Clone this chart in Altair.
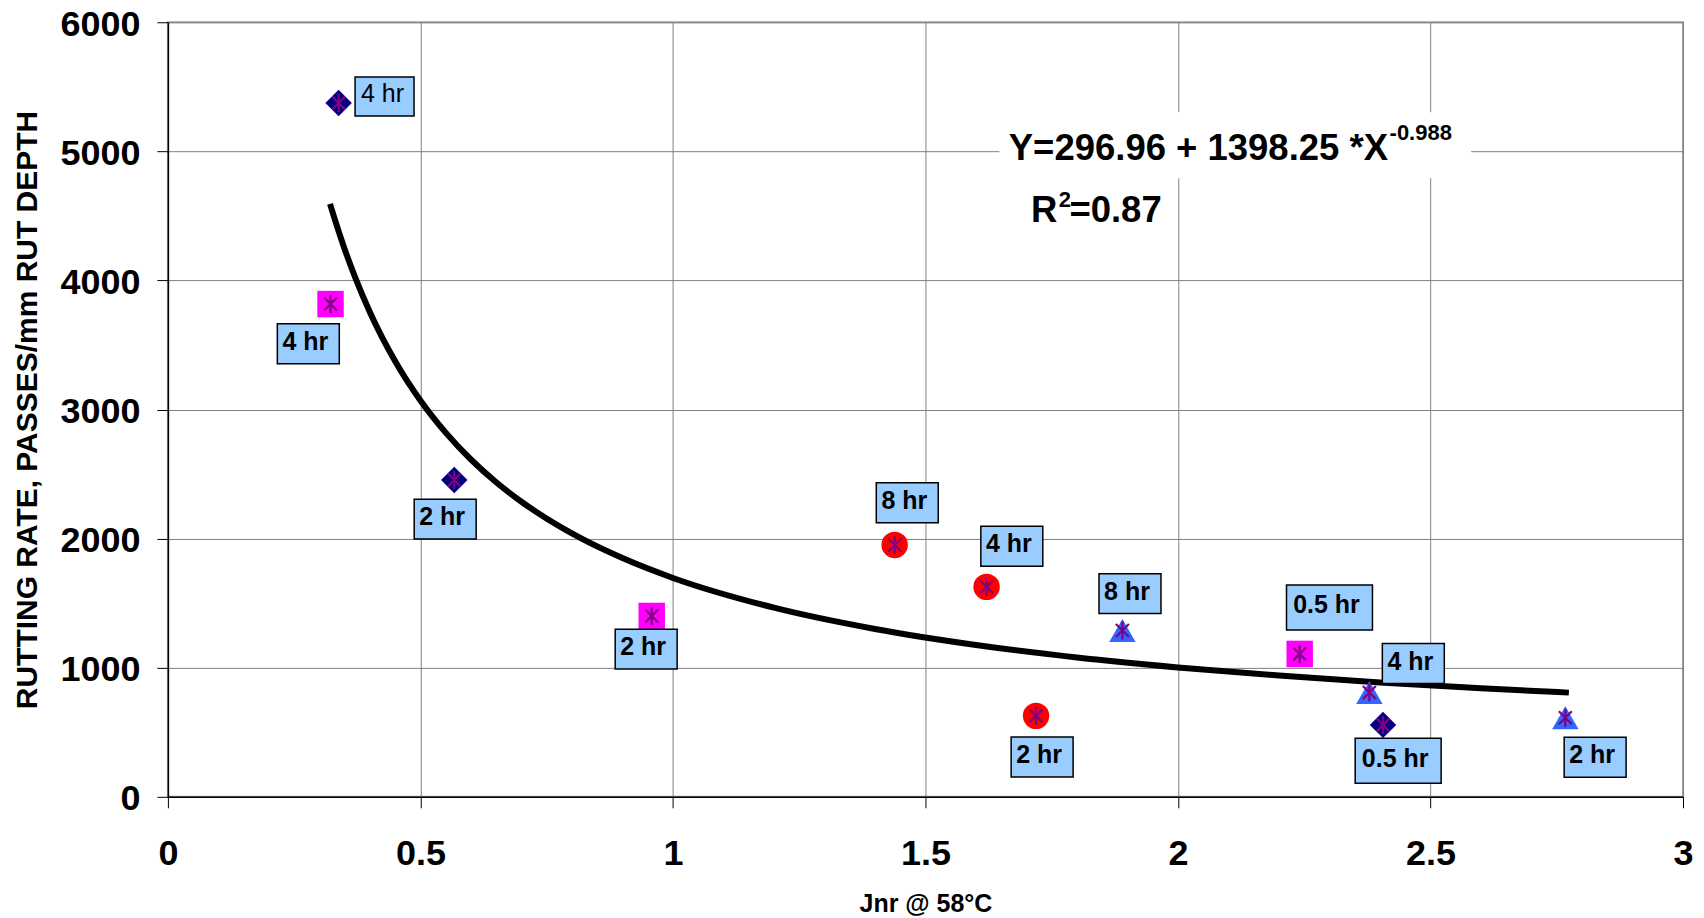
import altair as alt
import pandas as pd

# ---- data ----
series = ["Series 1", "Series 2", "Series 1", "Series 2", "Series 3", "Series 3",
          "Series 3", "Series 4", "Series 2", "Series 4", "Series 1", "Series 4"]
jnr = [0.338, 0.322, 0.567, 0.958, 1.439, 1.621, 1.719, 1.890, 2.241, 2.379, 2.406, 2.767]
rate = [5375, 3817, 2454, 1401, 1951, 1626, 627, 1288, 1107, 808, 557, 612]

labels = ["4 hr", "4 hr", "2 hr", "2 hr", "8 hr", "4 hr", "2 hr", "8 hr",
          "0.5 hr", "4 hr", "0.5 hr", "2 hr"]
label_x = [0.429, 0.278, 0.549, 0.947, 1.464, 1.671, 1.731, 1.905, 2.300, 2.466, 2.436, 2.826]
label_y = [5425, 3509, 2151, 1144, 2278, 1941, 308, 1574, 1467, 1032, 279, 307]

fit_x = [0.321, 0.33, 0.35, 0.37, 0.4, 0.45, 0.5, 0.55, 0.6, 0.65, 0.7, 0.8, 0.9,
         1.0, 1.2, 1.4, 1.6, 1.8, 2.0, 2.2, 2.4, 2.6, 2.774]
fit_y = [4594, 4478, 4242, 4032, 3754, 3374, 3070, 2821, 2613, 2437, 2286, 2040, 1849,
         1695, 1465, 1300, 1176, 1079, 1002, 939, 886, 841, 807]

eq_main = ["Y=296.96 + 1398.25 *X", "R", "=0.87"]
eq_main_x = [1.665, 1.709, 1.785]
eq_main_y = [4932, 4454, 4454]
eq_sup = ["-0.988", "2"]
eq_sup_x = [2.419, 1.764]
eq_sup_y = [5088, 4572]
eq_box_x = [2.1135]
eq_box_y = [5048]

x_ticks = [0, 0.5, 1, 1.5, 2, 2.5, 3]
y_ticks = [0, 1000, 2000, 3000, 4000, 5000, 6000]

FONT = "Liberation Sans"
W, H = 1516, 775


def X():
    return alt.X("x:Q", scale=alt.Scale(domain=[0, 3], nice=False, zero=False),
                 axis=alt.Axis(values=x_ticks, format=".1~f", title="Jnr @ 58°C",
                               labelFlush=False, labelOverlap=False, labelPadding=29,
                               titleX=W / 2, titleY=115, titleBaseline="alphabetic",
                               titleAlign="center", titleFontSize=25))


def Y():
    return alt.Y("y:Q", scale=alt.Scale(domain=[0, 6000], nice=False),
                 axis=alt.Axis(values=y_ticks, format="d",
                               title="RUTTING RATE, PASSES/mm RUT DEPTH",
                               labelOverlap=False, labelPadding=17, labelOffset=2,
                               titleX=-131, titleY=H / 2, titleAngle=270,
                               titleBaseline="alphabetic", titleAlign="center",
                               titleFontSize=30))


def rect_path(w, h):
    hw, hh = w / 2 / 50, h / 2 / 50
    return f"M{-hw},{-hh}L{hw},{-hh}L{hw},{hh}L{-hw},{hh}Z"


df_pts = pd.DataFrame({"x": jnr, "y": rate, "series": series})
df_fit = pd.DataFrame({"x": fit_x, "y": fit_y})
df_lab = pd.DataFrame({"x": label_x, "y": label_y, "label": labels})
df_lab["shape"] = [rect_path(62, 40) if len(t) <= 4 else rect_path(86, 45) for t in labels]
df_lab.loc[0, "shape"] = rect_path(59, 39)
df_eq = pd.DataFrame({"x": eq_main_x, "y": eq_main_y, "t": eq_main})
df_sup = pd.DataFrame({"x": eq_sup_x, "y": eq_sup_y, "t": eq_sup})
df_box = pd.DataFrame({"x": eq_box_x, "y": eq_box_y})

fit = alt.Chart(df_fit).mark_line(color="black", strokeWidth=6, interpolate="monotone").encode(x=X(), y=Y())

eq_bg = alt.Chart(df_box).mark_point(shape=rect_path(472, 66), size=10000, filled=True,
                                     fill="white", opacity=1, strokeWidth=0).encode(x=X(), y=Y())

eq_txt = alt.Chart(df_eq).mark_text(font=FONT, fontSize=36.5, fontWeight="bold", align="left",
                                    baseline="alphabetic", color="black").encode(x=X(), y=Y(), text="t:N")
sup_txt = alt.Chart(df_sup).mark_text(font=FONT, fontSize=22, fontWeight="bold", align="left",
                                      baseline="alphabetic", color="black").encode(x=X(), y=Y(), text="t:N")

markers = alt.Chart(df_pts).mark_point(filled=True, size=700, opacity=1, strokeWidth=0).encode(
    x=X(), y=Y(),
    shape=alt.Shape("series:N", scale=alt.Scale(domain=["Series 1", "Series 2", "Series 3", "Series 4"],
                                                range=["diamond", "square", "circle", "triangle-up"]),
                    legend=None),
    color=alt.Color("series:N", scale=alt.Scale(domain=["Series 1", "Series 2", "Series 3", "Series 4"],
                                                range=["#000080", "#FF00FF", "#FF0000", "#3366FF"]),
                    legend=None),
)

stars = alt.Chart(df_pts).mark_point(
    shape="M0,-1L0,1M-0.72,-0.72L0.72,0.72M-0.72,0.72L0.72,-0.72",
    size=324, filled=False, stroke="#800080", strokeWidth=2.2, opacity=1).encode(x=X(), y=Y())

boxes = alt.Chart(df_lab).mark_point(size=10000, filled=True, fill="#99CCFF", stroke="black",
                                     strokeWidth=1.5, opacity=1).encode(
    x=X(), y=Y(), shape=alt.Shape("shape:N", scale=None, legend=None))

lab_bold = alt.Chart(df_lab.iloc[1:]).mark_text(font=FONT, fontSize=25, fontWeight="bold", align="center",
                                               baseline="middle", dx=-3, dy=-2, color="black").encode(
    x=X(), y=Y(), text="label:N")
lab_reg = alt.Chart(df_lab.iloc[[0]]).mark_text(font=FONT, fontSize=25, fontWeight="normal", align="center",
                                               baseline="middle", dx=-2, dy=-2, color="black").encode(
    x=X(), y=Y(), text="label:N")

chart = alt.layer(fit, eq_bg, eq_txt, sup_txt, markers, stars, boxes, lab_bold, lab_reg).properties(
    width=W, height=H,
    padding={"left": 160, "top": 14, "right": 13, "bottom": 120},
    autosize=alt.AutoSizeParams(type="none"),
    background="white",
).configure_view(stroke="#a0a0a0", strokeWidth=2).configure_axis(
    grid=True, gridColor="#808080", gridWidth=1, gridOpacity=1,
    domainColor="black", domainWidth=1.5, tickColor="black", tickSize=11, tickWidth=1,
    labelFont=FONT, labelFontSize=36, labelFontWeight="bold", labelColor="black",
    titleFont=FONT, titleFontWeight="bold", titleColor="black",
)

chart.save("out.html", embed_options={"renderer": "svg", "actions": False})
